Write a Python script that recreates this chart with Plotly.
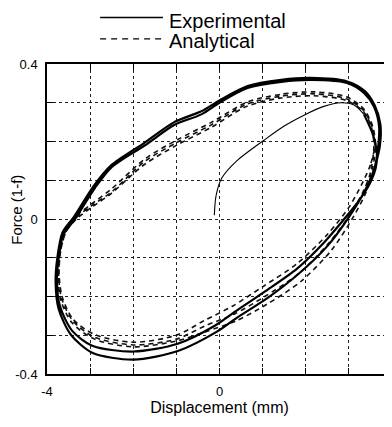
import plotly.graph_objects as go

# ---------------- data ----------------
# Experimental: initial loading curve (thin)
exp_init_x = [-0.12, -0.08, 0.05, 0.4, 1.04, 1.5, 1.96, 2.4, 2.82, 3.12, 3.35]
exp_init_y = [0.01, 0.06, 0.105, 0.15, 0.204, 0.24, 0.268, 0.29, 0.30, 0.294, 0.27]

# Experimental: cyclic loops (two laps)
exp_cyc_x = [3.35, 3.55, 3.65, 3.62, 3.5, 3.25, 2.93, 2.43, 1.8, 1.04, 0.35, -0.1, -0.97, -2.0,
             -2.95, -3.42, -3.7, -3.77, -3.73, -3.62, -3.35, -2.89, -2.5, -1.73, -1.04, -0.42,
             0.0, 0.65, 1.43, 2.12, 2.96, 3.35, 3.58, 3.70,
             3.68, 3.6, 3.38, 3.0, 2.5, 1.85, 1.1, 0.4, -0.05, -0.95, -2.0, -2.95, -3.45, -3.73,
             -3.8, -3.76, -3.64, -3.38, -2.92, -2.52, -1.75, -1.05, -0.42, 0.0, 0.65, 1.43, 2.12,
             2.96, 3.37, 3.6, 3.73, 3.72, 3.62]
exp_cyc_y = [0.27, 0.22, 0.17, 0.13, 0.095, 0.05, 0.005, -0.06, -0.128, -0.188, -0.24, -0.275,
             -0.322, -0.342, -0.327, -0.288, -0.225, -0.163, -0.10, -0.04, 0.0, 0.08, 0.134, 0.19,
             0.243, 0.27, 0.30, 0.338, 0.354, 0.359, 0.351, 0.325, 0.29, 0.24,
             0.186, 0.134, 0.075, 0.005, -0.07, -0.14, -0.205, -0.255, -0.29, -0.34, -0.363,
             -0.345, -0.298, -0.232, -0.165, -0.10, -0.035, 0.005, 0.085, 0.138, 0.196, 0.25,
             0.278, 0.306, 0.343, 0.359, 0.364, 0.355, 0.33, 0.293, 0.245, 0.19, 0.14]

# Analytical: three laps
ana_x = [3.6, 3.5, 3.3, 3.0, 2.5, 1.8, 1.0, 0.3, -0.35, -1.0, -2.0, -2.9, -3.4, -3.65, -3.72,
         -3.68, -3.55, -3.3, -2.95, -2.5, -1.73, -0.97, -0.18, 0.65, 1.43, 2.2, 2.96, 3.35, 3.55,
         3.62,
         3.55, 3.4, 3.1, 2.6, 1.9, 1.1, 0.4, -0.3, -1.0, -2.0, -2.9, -3.42, -3.68, -3.75, -3.7,
         -3.57, -3.32, -2.97, -2.52, -1.75, -1.0, -0.2, 0.62, 1.4, 2.18, 2.94, 3.33, 3.52, 3.58,
         3.5, 3.35, 3.05, 2.55, 1.85, 1.05, 0.35, -0.32, -1.0, -2.0, -2.9, -3.4, -3.66, -3.73,
         -3.69, -3.56, -3.31, -2.96, -2.5, -1.74, -0.98, -0.19, 0.63, 1.42, 2.2, 2.95, 3.34, 3.53,
         3.6]
ana_y = [0.19, 0.14, 0.09, 0.03, -0.04, -0.115, -0.175, -0.225, -0.262, -0.30, -0.318, -0.298,
         -0.258, -0.2, -0.14, -0.08, -0.03, 0.01, 0.04, 0.078, 0.155, 0.205, 0.25, 0.302, 0.322,
         0.328, 0.315, 0.283, 0.24, 0.19,
         0.13, 0.07, 0.005, -0.08, -0.16, -0.22, -0.262, -0.29, -0.315, -0.33, -0.31, -0.268,
         -0.21, -0.15, -0.088, -0.035, 0.0, 0.03, 0.065, 0.14, 0.19, 0.236, 0.29, 0.312, 0.318,
         0.306, 0.278, 0.238, 0.19,
         0.12, 0.075, 0.015, -0.06, -0.14, -0.2, -0.245, -0.275, -0.31, -0.325, -0.305, -0.263,
         -0.205, -0.145, -0.085, -0.033, 0.005, 0.035, 0.07, 0.148, 0.198, 0.243, 0.296, 0.317,
         0.323, 0.31, 0.28, 0.24, 0.19]

x_ticks = [-4, -3, -2, -1, 0, 1, 2, 3, 4]
x_ticktext = ["-4", "", "", "", "0", "", "", "", "4"]
y_ticks = [-0.4, -0.3, -0.2, -0.1, 0, 0.1, 0.2, 0.3, 0.4]
y_ticktext = ["-0.4", "", "", "", "0", "", "", "", "0.4"]

legend_names = ["Experimental", "Analytical"]
x_title = "Displacement (mm)"
y_title = "Force (1-f)"

# ---------------- figure ----------------
FONT = "Liberation Sans, Arial, Helvetica, sans-serif"
fig = go.Figure()

fig.add_trace(go.Scatter(x=ana_x, y=ana_y, mode="lines", name=legend_names[1],
                         line=dict(color="#111", width=1.6, dash="5px,4px", shape="spline",
                                   smoothing=0.8),
                         showlegend=False))
fig.add_trace(go.Scatter(x=exp_cyc_x, y=exp_cyc_y, mode="lines", name=legend_names[0],
                         line=dict(color="#000", width=2.2, shape="spline", smoothing=0.8),
                         showlegend=False))
fig.add_trace(go.Scatter(x=exp_init_x, y=exp_init_y, mode="lines", name=legend_names[0],
                         line=dict(color="#000", width=1.1, shape="spline", smoothing=0.8),
                         showlegend=False))

# manual legend (long line samples like the reference)
fig.add_shape(type="line", xref="paper", yref="paper", x0=0.154, x1=0.336, y0=1.150, y1=1.150,
              line=dict(color="#000", width=1.3))
fig.add_shape(type="line", xref="paper", yref="paper", x0=0.154, x1=0.336, y0=1.081, y1=1.081,
              line=dict(color="#000", width=1.3, dash="6px,5px"))
fig.add_annotation(xref="paper", yref="paper", x=0.352, y=1.178, text=legend_names[0],
                   showarrow=False, xanchor="left", yanchor="top", borderpad=0,
                   font=dict(family=FONT, size=20, color="#000"))
fig.add_annotation(xref="paper", yref="paper", x=0.352, y=1.112, text=legend_names[1],
                   showarrow=False, xanchor="left", yanchor="top", borderpad=0,
                   font=dict(family=FONT, size=20, color="#000"))

# y-axis title placed like the reference
fig.add_annotation(xref="paper", yref="paper", x=-0.087, y=0.53, text=y_title,
                   showarrow=False, textangle=-90, xanchor="center", yanchor="middle",
                   font=dict(family=FONT, size=15, color="#000"))

axis_common = dict(showline=True, linecolor="#000", linewidth=1.5, mirror="ticks",
                   ticks="inside", ticklen=6, tickcolor="#000", tickwidth=1,
                   showgrid=True, gridcolor="#222", gridwidth=1, griddash="dot",
                   zeroline=False, automargin=False,
                   tickfont=dict(family=FONT, size=13, color="#000"))

fig.update_xaxes(range=[-4, 4], tickvals=x_ticks, ticktext=x_ticktext, ticklabelstandoff=5,
                 title=dict(text=x_title, font=dict(family=FONT, size=16, color="#000"),
                            standoff=3),
                 **axis_common)
fig.update_yaxes(range=[-0.4, 0.4], tickvals=y_ticks, ticktext=y_ticktext, ticklabelstandoff=5,
                 **axis_common)

# page body has an 8px margin, so the figure is 8px smaller and offset
fig.update_layout(width=384, height=419, margin=dict(l=39, r=0, t=56, b=53, autoexpand=False),
                  paper_bgcolor="white", plot_bgcolor="white", showlegend=False,
                  font=dict(family=FONT, color="#000"))

fig.write_html("out.html")
